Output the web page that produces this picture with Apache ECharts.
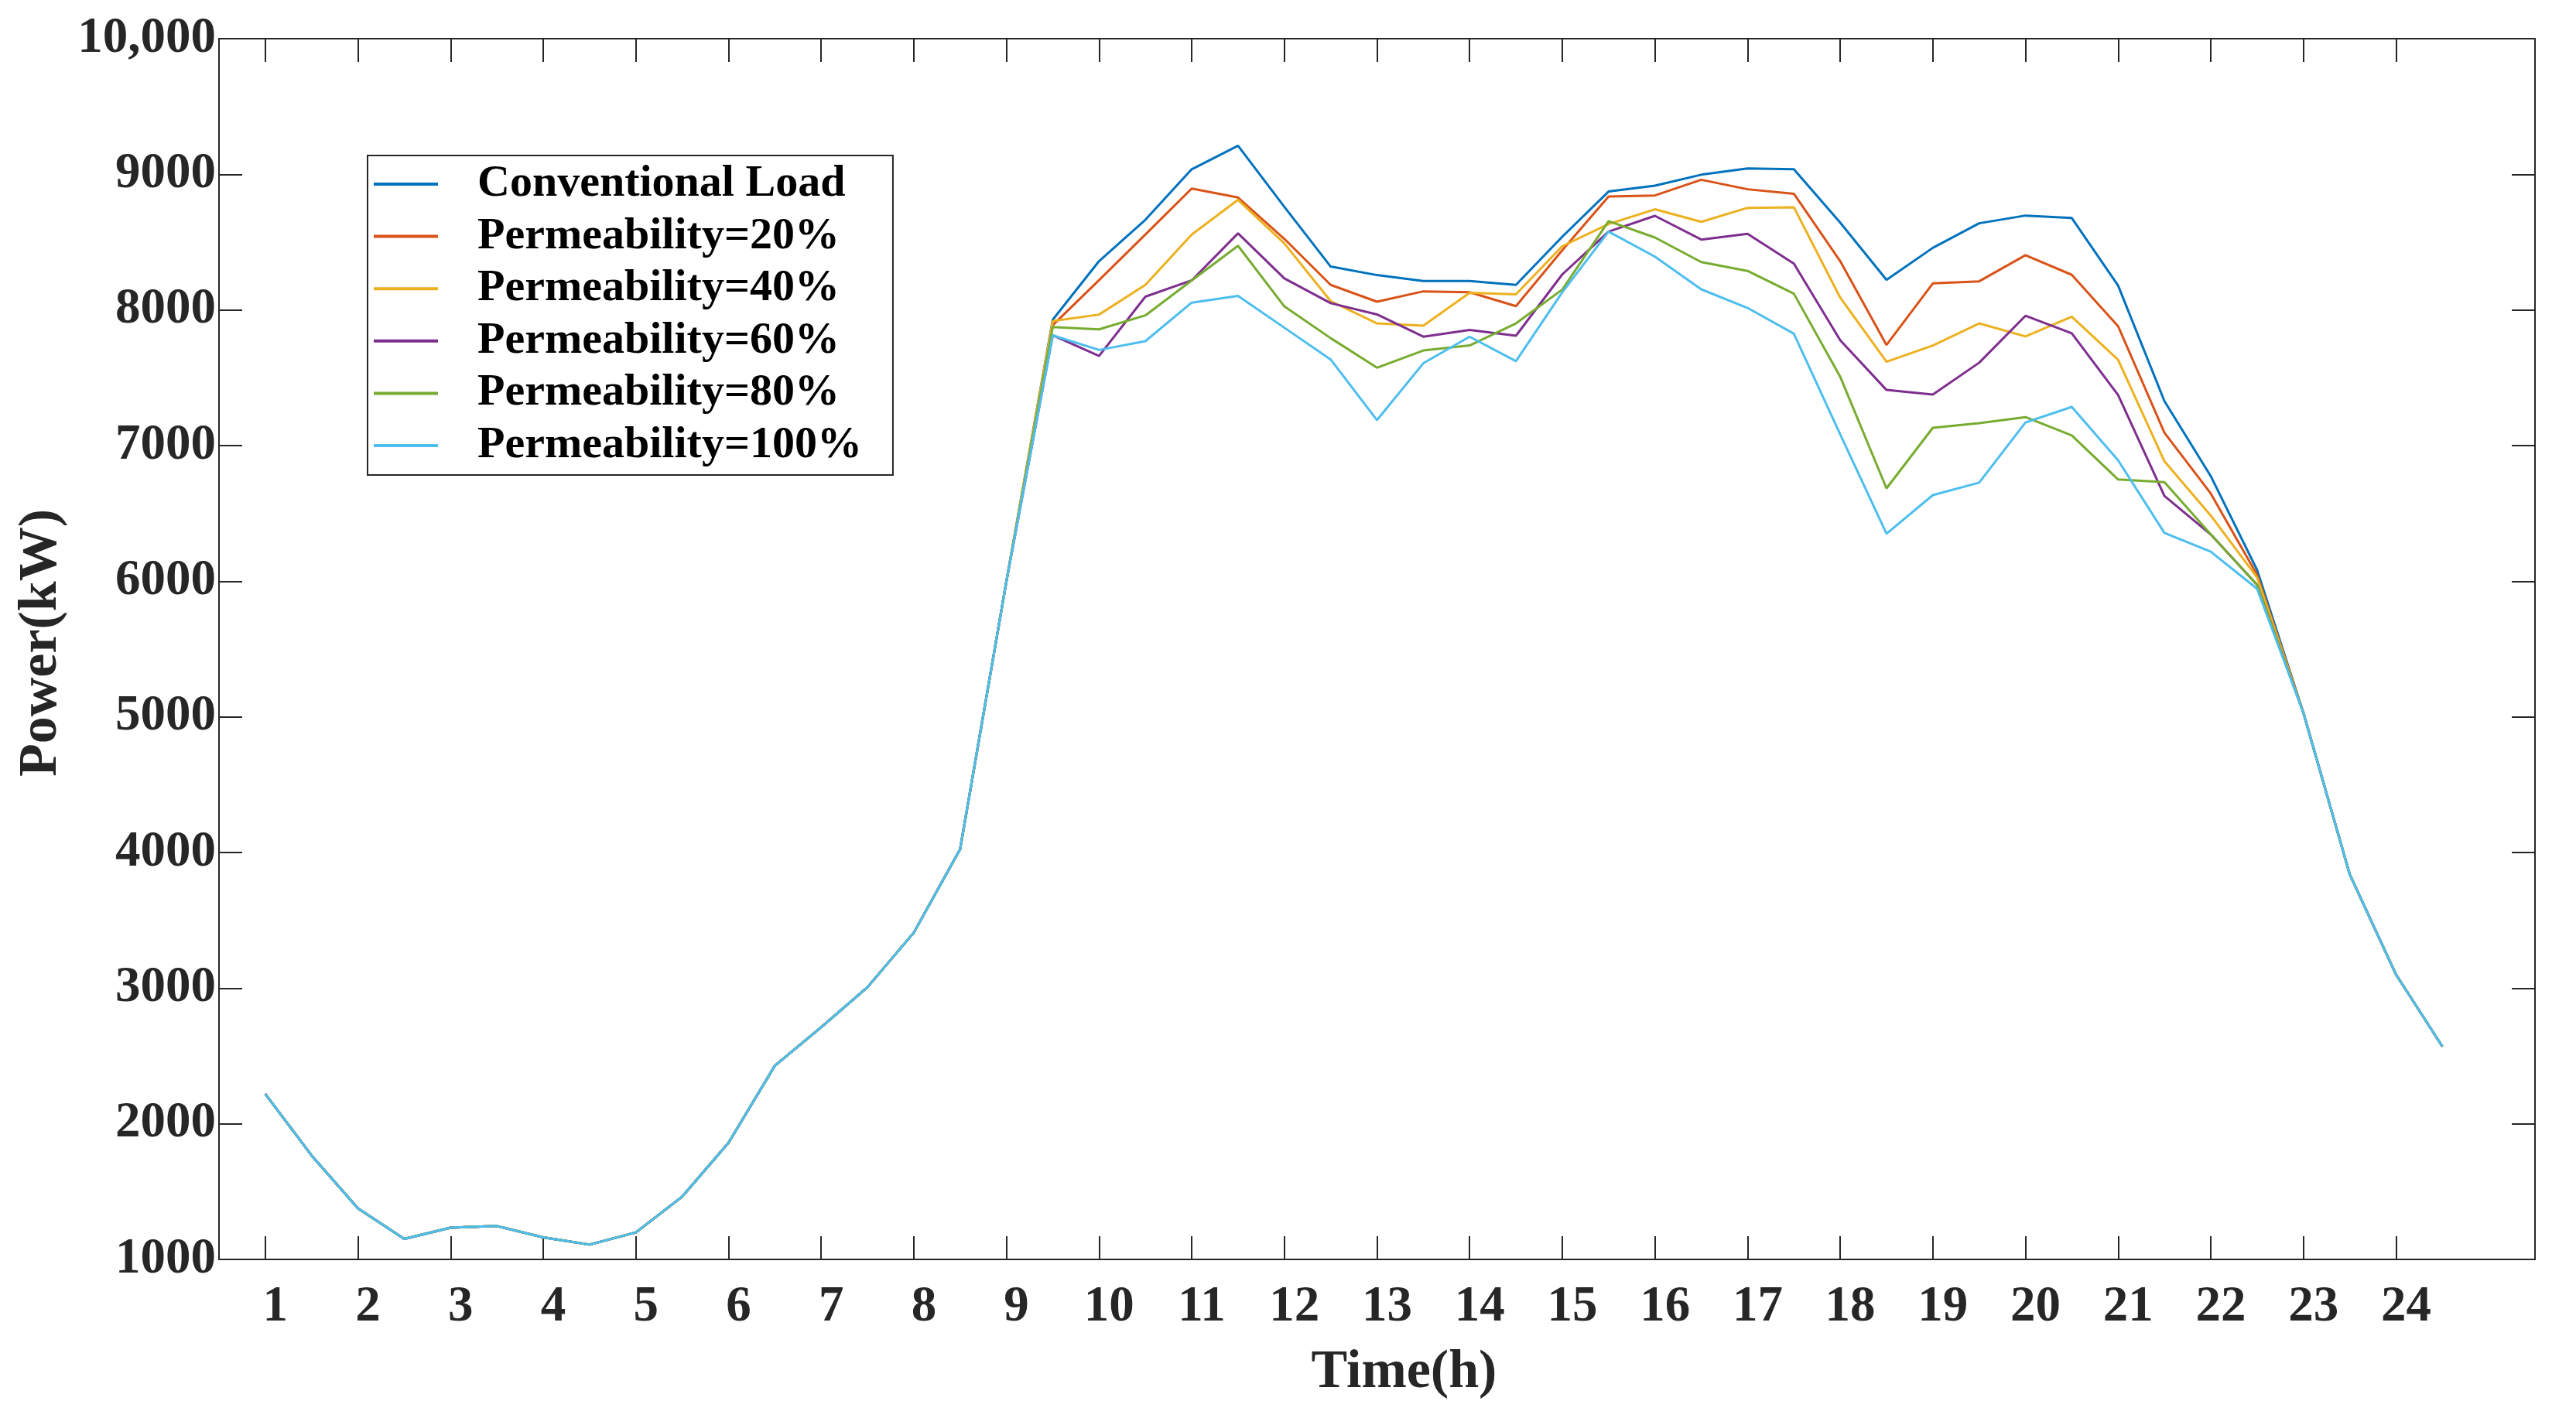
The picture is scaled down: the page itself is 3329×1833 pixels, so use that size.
<!DOCTYPE html>
<html>
<head>
<meta charset="utf-8">
<script src="https://cdn.jsdelivr.net/npm/echarts@6/dist/echarts.min.js"></script>
<style>
html,body{margin:0;padding:0;background:#fff;}
#chart{width:3329px;height:1833px;}
</style>
</head>
<body>
<div id="chart"></div>
<script>
const hours = [1,1.5,2,2.5,3,3.5,4,4.5,5,5.5,6,6.5,7,7.5,8,8.5,9,9.5,10,10.5,11,11.5,12,12.5,13,13.5,14,14.5,15,15.5,16,16.5,17,17.5,18,18.5,19,19.5,20,20.5,21,21.5,22,22.5,23,23.5,24,24.5];
const tickHours = [1,2,3,4,5,6,7,8,9,10,11,12,13,14,15,16,17,18,19,20,21,22,23,24];
const seriesNames = ['Conventional Load','Permeability=20%','Permeability=40%','Permeability=60%','Permeability=80%','Permeability=100%'];

const conventional = [2220,1766,1376,1151,1234,1246,1163,1109,1199,1463,1860,2428,2712,3007,3409,4024,6000,
  7928,8360,8665,9037,9211,8760,8320,8257,8213,8213,8185,8540,8873,8916,8997,9043,9037,8644,8222,8458,8639,8696,8678,8180,7328,6775,6083,
  5030,3840,3100,2570];
const perm20 = [2220,1766,1376,1151,1234,1246,1163,1109,1199,1463,1860,2428,2712,3007,3409,4024,6000,
  7888,8220,8556,8895,8829,8524,8185,8061,8137,8131,8028,8440,8836,8844,8960,8890,8857,8360,7742,8196,8211,8404,8259,7880,7095,6647,6047,
  5030,3840,3100,2570];
const perm40 = [2220,1766,1376,1151,1234,1246,1163,1109,1199,1463,1860,2428,2712,3007,3409,4024,6000,
  7918,7966,8185,8556,8812,8491,8065,7901,7884,8126,8115,8470,8633,8742,8650,8753,8757,8091,7618,7738,7901,7805,7950,7632,6884,6484,6028,
  5030,3840,3100,2570];
const perm60 = [2220,1766,1376,1151,1234,1246,1163,1109,1199,1463,1860,2428,2712,3007,3409,4024,6000,
  7813,7661,8098,8218,8565,8233,8050,7967,7803,7853,7810,8262,8578,8694,8519,8561,8342,7777,7410,7377,7611,7957,7828,7373,6629,6345,5974,
  5030,3840,3100,2570];
const perm80 = [2220,1766,1376,1151,1234,1246,1163,1109,1199,1463,1860,2428,2712,3007,3409,4024,6000,
  7874,7857,7960,8218,8473,8026,7792,7574,7701,7738,7901,8150,8655,8534,8353,8288,8120,7508,6685,7131,7166,7210,7075,6750,6731,6345,5974,
  5030,3840,3100,2570];
const perm100 = [2220,1766,1376,1151,1234,1246,1163,1109,1199,1463,1860,2428,2712,3007,3409,4024,6000,
  7813,7705,7770,8054,8104,7869,7635,7188,7607,7803,7622,8130,8578,8393,8152,8015,7825,7083,6351,6635,6727,7170,7285,6892,6356,6218,5945,
  5030,3840,3100,2570];

const allValues = [conventional, perm20, perm40, perm60, perm80, perm100];
const colors = ['#0072BD','#D95319','#EDB120','#7E2F8E','#77AC30','#4DBEEE'];

const FONT = '"Liberation Serif","Times New Roman",serif';
const AX = '#262626';

const chart = echarts.init(document.getElementById('chart'), null, {renderer:'canvas'});

const series = seriesNames.map((name, i) => ({
  name: name,
  type: 'line',
  xAxisIndex: 0,
  yAxisIndex: 0,
  symbol: 'none',
  smooth: false,
  animation: false,
  lineStyle: {width: 3, color: colors[i]},
  itemStyle: {color: colors[i]},
  data: hours.map((h, k) => [h, allValues[i][k]])
}));

const option = {
  backgroundColor: '#ffffff',
  animation: false,
  color: colors,
  grid: {left: 283, right: 53, top: 50, bottom: 205, show: false, containLabel: false},
  legend: {
    orient: 'vertical',
    left: 475,
    top: 201,
    padding: [7, 40, 8, 8],
    icon: 'rect',
    itemWidth: 83,
    itemHeight: 4,
    itemGap: 7.6,
    borderColor: AX,
    borderWidth: 2,
    backgroundColor: '#ffffff',
    data: seriesNames,
    textStyle: {
      fontFamily: FONT,
      fontWeight: 'bold',
      fontSize: 58,
      lineHeight: 60,
      color: '#000000',
      padding: [0, 0, 0, 46]
    }
  },
  xAxis: [
    {
      type: 'value',
      position: 'bottom',
      min: 0.5,
      max: 25.5,
      name: 'Time(h)',
      nameLocation: 'middle',
      nameGap: 112,
      nameTextStyle: {fontFamily: FONT, fontWeight: 'bold', fontSize: 70, color: AX, padding: [0, 0, 0, 70]},
      axisLine: {show: true, lineStyle: {color: AX, width: 2}},
      axisTick: {show: true, inside: true, length: 30, lineStyle: {color: AX, width: 2}, customValues: tickHours},
      axisLabel: {show: true, customValues: tickHours, fontFamily: FONT, fontWeight: 'bold', fontSize: 65, color: AX, margin: 30, padding: [0, 0, 0, 26]},
      splitLine: {show: false}
    },
    {
      type: 'value',
      position: 'top',
      min: 0.5,
      max: 25.5,
      axisLine: {show: true, lineStyle: {color: AX, width: 2}},
      axisTick: {show: true, inside: true, length: 30, lineStyle: {color: AX, width: 2}, customValues: tickHours},
      axisLabel: {show: false, customValues: tickHours},
      splitLine: {show: false}
    }
  ],
  yAxis: [
    {
      type: 'value',
      position: 'left',
      min: 1000,
      max: 10000,
      interval: 1000,
      name: 'Power(kW)',
      nameLocation: 'middle',
      nameGap: 184,
      nameRotate: 90,
      nameTextStyle: {fontFamily: FONT, fontWeight: 'bold', fontSize: 70, color: AX, padding: [0, 0, 0, 16]},
      axisLine: {show: true, lineStyle: {color: AX, width: 2}},
      axisTick: {show: true, inside: true, length: 30, lineStyle: {color: AX, width: 2}},
      axisLabel: {
        fontFamily: FONT, fontWeight: 'bold', fontSize: 65, color: AX, margin: 4,
        formatter: v => (v === 10000 ? '10,000' : String(v))
      },
      splitLine: {show: false}
    },
    {
      type: 'value',
      position: 'right',
      min: 1000,
      max: 10000,
      interval: 1000,
      axisLine: {show: true, lineStyle: {color: AX, width: 2}},
      axisTick: {show: true, inside: true, length: 30, lineStyle: {color: AX, width: 2}},
      axisLabel: {show: false},
      splitLine: {show: false}
    }
  ],
  series: series
};

chart.setOption(option);
</script>
</body>
</html>
